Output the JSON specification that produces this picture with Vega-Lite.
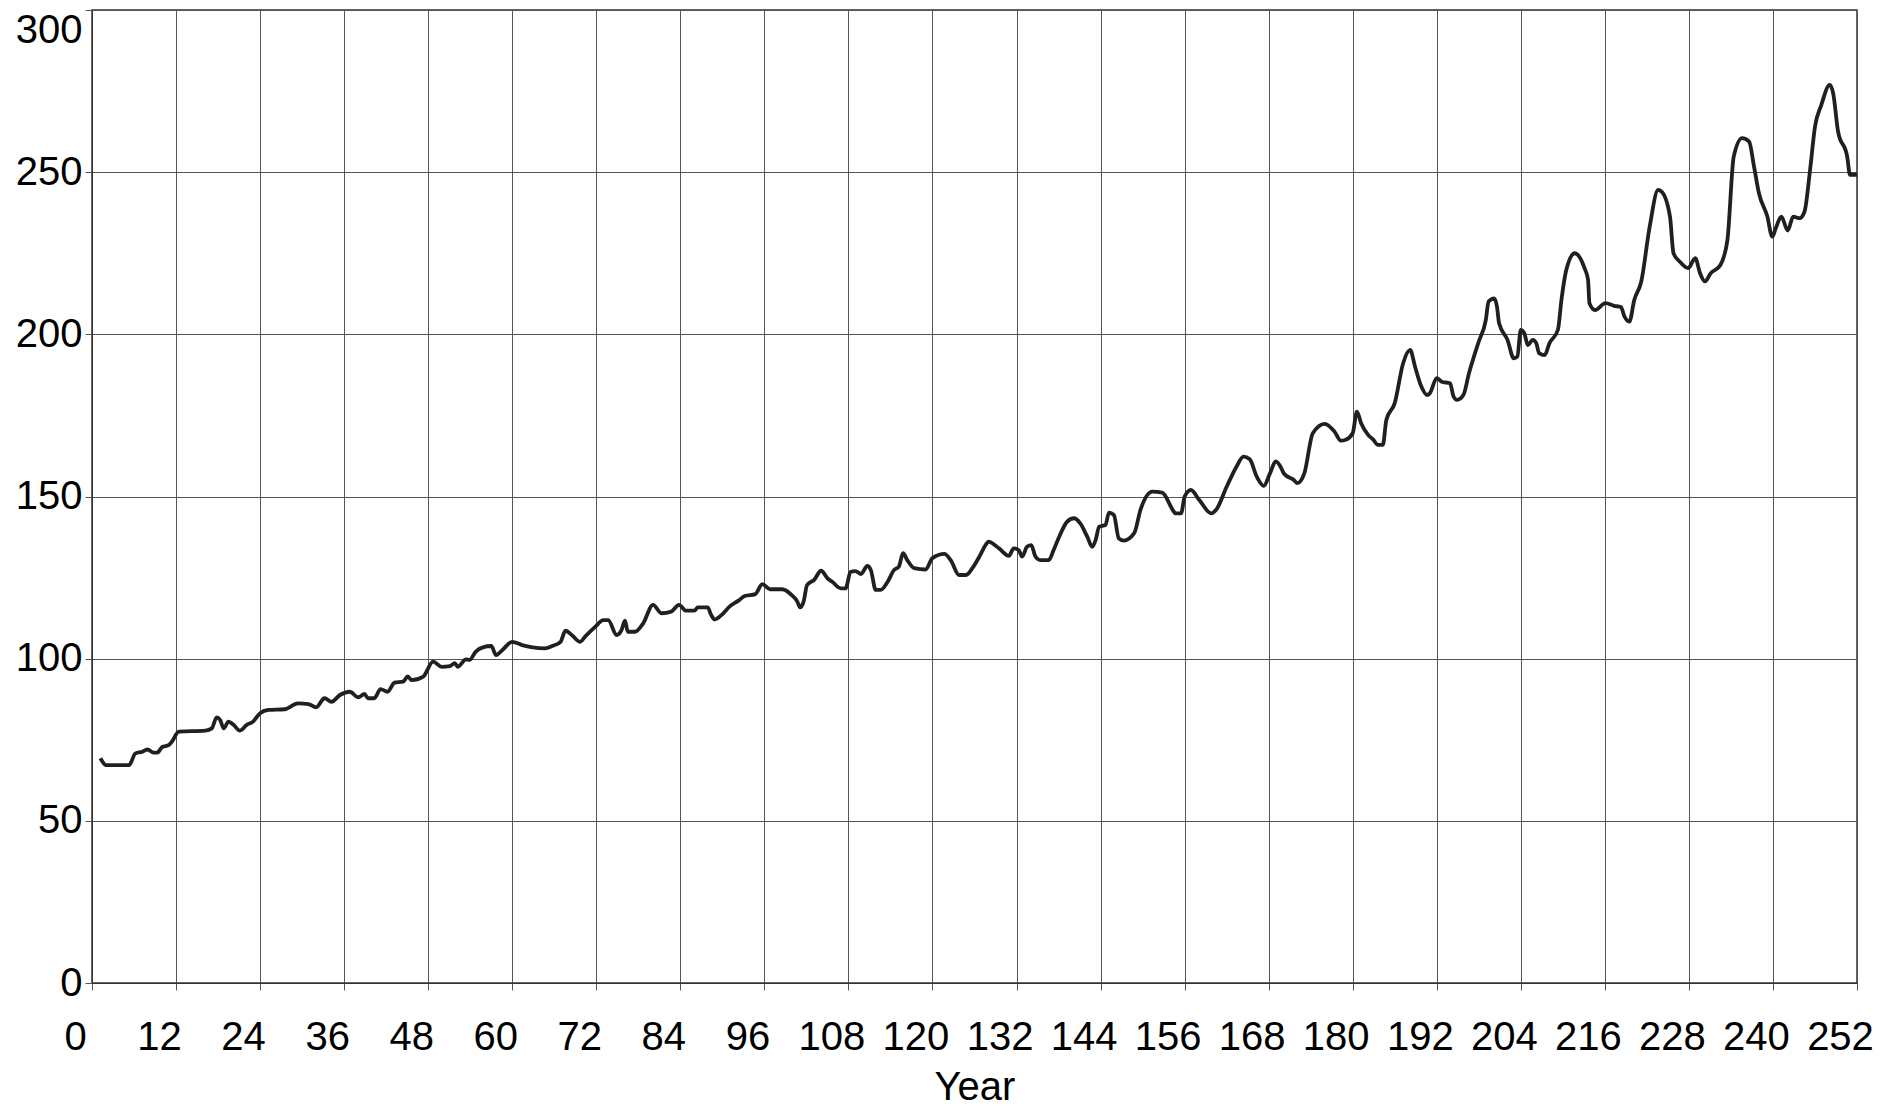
{
  "$schema": "https://vega.github.io/schema/vega-lite/v6.json",
  "width": 1765,
  "height": 973,
  "autosize": {"type": "none"},
  "padding": {"left": 92, "top": 10, "right": 29, "bottom": 124},
  "background": "white",
  "config": {
    "view": {"stroke": "#333333", "strokeWidth": 1.5},
    "axis": {
      "labelFont": "Liberation Sans",
      "titleFont": "Liberation Sans",
      "labelFontSize": 40,
      "titleFontSize": 40,
      "titleFontWeight": "normal",
      "labelColor": "#000000",
      "titleColor": "#000000",
      "gridColor": "#555555",
      "gridOpacity": 1,
      "gridWidth": 1,
      "tickColor": "#555555",
      "tickSize": 7,
      "domainColor": "#333333",
      "labelOverlap": false,
      "labelFlush": false
    }
  },
  "data": {
    "values": [
      {"year": 1.2, "value": 69.3}, {"year": 2.0, "value": 67.2}, {"year": 5.3, "value": 67.2},
      {"year": 6.2, "value": 70.8}, {"year": 7.2, "value": 71.3}, {"year": 7.9, "value": 72.0},
      {"year": 8.8, "value": 71.0}, {"year": 9.3, "value": 71.0}, {"year": 10.0, "value": 72.7},
      {"year": 11.0, "value": 73.4}, {"year": 11.4, "value": 74.4}, {"year": 12.4, "value": 77.5},
      {"year": 16.2, "value": 77.8}, {"year": 17.1, "value": 78.5}, {"year": 17.8, "value": 81.9},
      {"year": 18.3, "value": 81.1}, {"year": 18.8, "value": 78.5}, {"year": 19.5, "value": 80.6},
      {"year": 20.2, "value": 79.6}, {"year": 21.1, "value": 77.8}, {"year": 22.1, "value": 79.6},
      {"year": 23.0, "value": 80.6}, {"year": 24.0, "value": 83.2}, {"year": 25.2, "value": 84.2},
      {"year": 27.5, "value": 84.4}, {"year": 29.4, "value": 86.2}, {"year": 30.9, "value": 86.0},
      {"year": 32.0, "value": 85.0}, {"year": 33.2, "value": 87.8}, {"year": 34.2, "value": 86.7},
      {"year": 35.4, "value": 88.8}, {"year": 36.8, "value": 89.8}, {"year": 38.0, "value": 88.1},
      {"year": 38.9, "value": 89.1}, {"year": 39.4, "value": 87.8}, {"year": 40.3, "value": 87.8},
      {"year": 41.2, "value": 90.6}, {"year": 42.2, "value": 89.8}, {"year": 43.2, "value": 92.6},
      {"year": 44.4, "value": 92.9}, {"year": 45.1, "value": 94.5}, {"year": 45.6, "value": 93.4},
      {"year": 47.3, "value": 94.5}, {"year": 48.7, "value": 99.1}, {"year": 49.9, "value": 97.5},
      {"year": 51.1, "value": 97.7}, {"year": 51.8, "value": 98.6}, {"year": 52.2, "value": 97.5},
      {"year": 53.4, "value": 99.8}, {"year": 53.9, "value": 99.6}, {"year": 54.8, "value": 102.2},
      {"year": 55.8, "value": 103.5}, {"year": 57.0, "value": 103.9}, {"year": 57.7, "value": 101.1},
      {"year": 58.6, "value": 102.7}, {"year": 60.0, "value": 105.2}, {"year": 61.4, "value": 104.2},
      {"year": 62.9, "value": 103.5}, {"year": 64.7, "value": 103.2}, {"year": 65.7, "value": 103.9},
      {"year": 66.9, "value": 105.2}, {"year": 67.6, "value": 108.6}, {"year": 68.5, "value": 107.3},
      {"year": 69.7, "value": 105.2}, {"year": 70.4, "value": 106.8}, {"year": 71.8, "value": 109.7},
      {"year": 73.0, "value": 111.9}, {"year": 73.7, "value": 111.9}, {"year": 74.9, "value": 107.3},
      {"year": 75.6, "value": 108.8}, {"year": 76.1, "value": 111.7}, {"year": 76.5, "value": 108.3},
      {"year": 77.5, "value": 108.3}, {"year": 78.7, "value": 110.9}, {"year": 80.1, "value": 116.6},
      {"year": 81.3, "value": 114.0}, {"year": 82.7, "value": 114.5}, {"year": 83.8, "value": 116.6},
      {"year": 84.8, "value": 114.8}, {"year": 86.0, "value": 114.8}, {"year": 86.5, "value": 115.8},
      {"year": 87.9, "value": 115.8}, {"year": 88.4, "value": 113.5}, {"year": 88.9, "value": 112.1},
      {"year": 89.9, "value": 113.5}, {"year": 91.1, "value": 116.2}, {"year": 92.3, "value": 117.9},
      {"year": 93.2, "value": 119.3}, {"year": 94.7, "value": 119.9}, {"year": 95.7, "value": 123.0},
      {"year": 96.8, "value": 121.4}, {"year": 98.5, "value": 121.4}, {"year": 99.9, "value": 119.6},
      {"year": 100.7, "value": 117.6}, {"year": 101.1, "value": 115.8}, {"year": 101.6, "value": 117.6},
      {"year": 102.1, "value": 122.7}, {"year": 103.1, "value": 124.3}, {"year": 104.1, "value": 127.1},
      {"year": 105.0, "value": 124.8}, {"year": 105.7, "value": 123.7}, {"year": 106.9, "value": 121.7},
      {"year": 107.6, "value": 121.7}, {"year": 108.3, "value": 126.8}, {"year": 109.0, "value": 127.0},
      {"year": 109.8, "value": 126.1}, {"year": 110.7, "value": 128.6}, {"year": 111.2, "value": 127.3},
      {"year": 111.9, "value": 121.2}, {"year": 112.6, "value": 121.2}, {"year": 113.6, "value": 123.7},
      {"year": 114.5, "value": 127.3}, {"year": 115.2, "value": 128.4}, {"year": 115.8, "value": 132.5},
      {"year": 116.4, "value": 130.4}, {"year": 117.4, "value": 127.9}, {"year": 119.0, "value": 127.5},
      {"year": 120.0, "value": 131.0}, {"year": 121.7, "value": 132.3}, {"year": 122.6, "value": 130.4},
      {"year": 123.8, "value": 125.8}, {"year": 124.8, "value": 125.8}, {"year": 125.7, "value": 127.9},
      {"year": 126.7, "value": 131.5}, {"year": 127.6, "value": 135.1}, {"year": 128.0, "value": 136.1},
      {"year": 129.5, "value": 134.0}, {"year": 130.9, "value": 131.7}, {"year": 131.6, "value": 134.0},
      {"year": 132.3, "value": 133.5}, {"year": 132.8, "value": 131.5}, {"year": 133.5, "value": 134.5},
      {"year": 134.1, "value": 135.0}, {"year": 134.7, "value": 131.5}, {"year": 135.4, "value": 130.4},
      {"year": 136.6, "value": 130.4}, {"year": 137.3, "value": 133.5}, {"year": 138.0, "value": 137.1},
      {"year": 139.2, "value": 142.2}, {"year": 140.2, "value": 143.3}, {"year": 141.1, "value": 141.7},
      {"year": 142.1, "value": 137.6}, {"year": 142.8, "value": 134.5}, {"year": 143.3, "value": 136.6},
      {"year": 143.8, "value": 140.7}, {"year": 144.7, "value": 141.2}, {"year": 145.2, "value": 145.0},
      {"year": 145.9, "value": 144.3}, {"year": 146.6, "value": 137.1}, {"year": 147.3, "value": 136.4},
      {"year": 148.8, "value": 138.7}, {"year": 149.7, "value": 145.9}, {"year": 151.4, "value": 151.5},
      {"year": 152.8, "value": 151.2}, {"year": 154.3, "value": 145.9}, {"year": 154.7, "value": 144.8},
      {"year": 155.5, "value": 144.8}, {"year": 156.0, "value": 150.0}, {"year": 156.9, "value": 152.0},
      {"year": 158.1, "value": 148.9}, {"year": 159.8, "value": 144.8}, {"year": 160.5, "value": 145.9},
      {"year": 162.0, "value": 153.0}, {"year": 163.4, "value": 159.2}, {"year": 164.4, "value": 162.3},
      {"year": 165.3, "value": 161.5}, {"year": 166.3, "value": 156.1}, {"year": 167.3, "value": 153.3},
      {"year": 168.2, "value": 157.2}, {"year": 169.0, "value": 160.8}, {"year": 169.7, "value": 159.2},
      {"year": 170.2, "value": 157.0}, {"year": 171.6, "value": 155.1}, {"year": 172.1, "value": 154.1},
      {"year": 173.1, "value": 157.2}, {"year": 174.3, "value": 169.5}, {"year": 176.0, "value": 172.4},
      {"year": 177.4, "value": 170.0}, {"year": 178.3, "value": 167.2}, {"year": 179.0, "value": 167.5},
      {"year": 180.0, "value": 169.5}, {"year": 180.6, "value": 176.2}, {"year": 181.2, "value": 172.6},
      {"year": 182.2, "value": 169.0}, {"year": 182.9, "value": 167.6}, {"year": 183.6, "value": 165.9},
      {"year": 184.3, "value": 165.9}, {"year": 184.8, "value": 173.6}, {"year": 186.0, "value": 178.8},
      {"year": 187.2, "value": 191.1}, {"year": 188.2, "value": 195.2}, {"year": 188.9, "value": 190.0},
      {"year": 189.8, "value": 183.9}, {"year": 190.6, "value": 181.3}, {"year": 191.0, "value": 181.8},
      {"year": 192.0, "value": 186.5}, {"year": 192.7, "value": 185.4}, {"year": 193.9, "value": 184.9},
      {"year": 194.4, "value": 180.8}, {"year": 194.9, "value": 179.8}, {"year": 195.8, "value": 181.3},
      {"year": 196.6, "value": 188.0}, {"year": 198.0, "value": 197.8}, {"year": 199.0, "value": 204.4},
      {"year": 199.4, "value": 210.1}, {"year": 200.2, "value": 211.1}, {"year": 200.6, "value": 208.5},
      {"year": 200.9, "value": 203.4}, {"year": 202.1, "value": 198.3}, {"year": 203.0, "value": 192.6},
      {"year": 203.5, "value": 193.1}, {"year": 204.0, "value": 201.4}, {"year": 204.5, "value": 200.3},
      {"year": 205.0, "value": 196.7}, {"year": 205.7, "value": 198.3}, {"year": 206.2, "value": 197.3},
      {"year": 206.6, "value": 194.2}, {"year": 207.4, "value": 193.6}, {"year": 208.1, "value": 197.3},
      {"year": 209.3, "value": 201.4}, {"year": 209.8, "value": 210.6}, {"year": 210.5, "value": 219.9},
      {"year": 211.7, "value": 225.0}, {"year": 213.1, "value": 220.4}, {"year": 213.6, "value": 216.8},
      {"year": 213.8, "value": 209.6}, {"year": 214.6, "value": 207.5}, {"year": 216.1, "value": 209.6},
      {"year": 217.3, "value": 208.8}, {"year": 218.3, "value": 208.4}, {"year": 218.8, "value": 205.5},
      {"year": 219.5, "value": 203.9}, {"year": 220.2, "value": 210.6}, {"year": 221.2, "value": 216.3},
      {"year": 222.4, "value": 233.2}, {"year": 223.6, "value": 244.5}, {"year": 224.1, "value": 244.0},
      {"year": 225.3, "value": 236.3}, {"year": 225.8, "value": 225.0}, {"year": 226.7, "value": 222.4},
      {"year": 227.9, "value": 220.4}, {"year": 228.9, "value": 223.5}, {"year": 229.6, "value": 218.8},
      {"year": 230.3, "value": 216.3}, {"year": 231.1, "value": 218.8}, {"year": 232.5, "value": 221.4},
      {"year": 233.5, "value": 229.1}, {"year": 234.4, "value": 254.8}, {"year": 235.6, "value": 260.5},
      {"year": 236.6, "value": 259.4}, {"year": 237.3, "value": 251.7}, {"year": 238.0, "value": 243.5},
      {"year": 239.2, "value": 236.3}, {"year": 239.9, "value": 230.1}, {"year": 240.4, "value": 232.7},
      {"year": 241.2, "value": 236.3}, {"year": 242.1, "value": 232.0}, {"year": 242.9, "value": 236.3},
      {"year": 243.8, "value": 235.8}, {"year": 244.5, "value": 237.8}, {"year": 245.3, "value": 250.7},
      {"year": 246.0, "value": 264.0}, {"year": 246.9, "value": 270.7}, {"year": 248.1, "value": 276.9},
      {"year": 248.6, "value": 274.3}, {"year": 249.3, "value": 262.5}, {"year": 250.6, "value": 254.8},
      {"year": 251.0, "value": 249.2}, {"year": 252.0, "value": 249.2}
    ]
  },
  "mark": {"type": "line", "color": "#231f20", "strokeWidth": 3.8, "interpolate": "monotone"},
  "encoding": {
    "x": {
      "field": "year",
      "type": "quantitative",
      "scale": {"domain": [0, 252], "nice": false, "zero": false},
      "axis": {
        "title": "Year",
        "values": [0, 12, 24, 36, 48, 60, 72, 84, 96, 108, 120, 132, 144, 156, 168, 180, 192, 204, 216, 228, 240, 252],
        "labelPadding": 27,
        "labelOffset": -17,
        "titlePadding": 10
      }
    },
    "y": {
      "field": "value",
      "type": "quantitative",
      "scale": {"domain": [0, 300], "nice": false, "zero": true},
      "axis": {
        "title": null,
        "values": [0, 50, 100, 150, 200, 250, 300],
        "labelPadding": 3,
        "labelBaseline": {"condition": {"test": "datum.value == 300", "value": "top"}, "value": "middle"}
      }
    }
  }
}
